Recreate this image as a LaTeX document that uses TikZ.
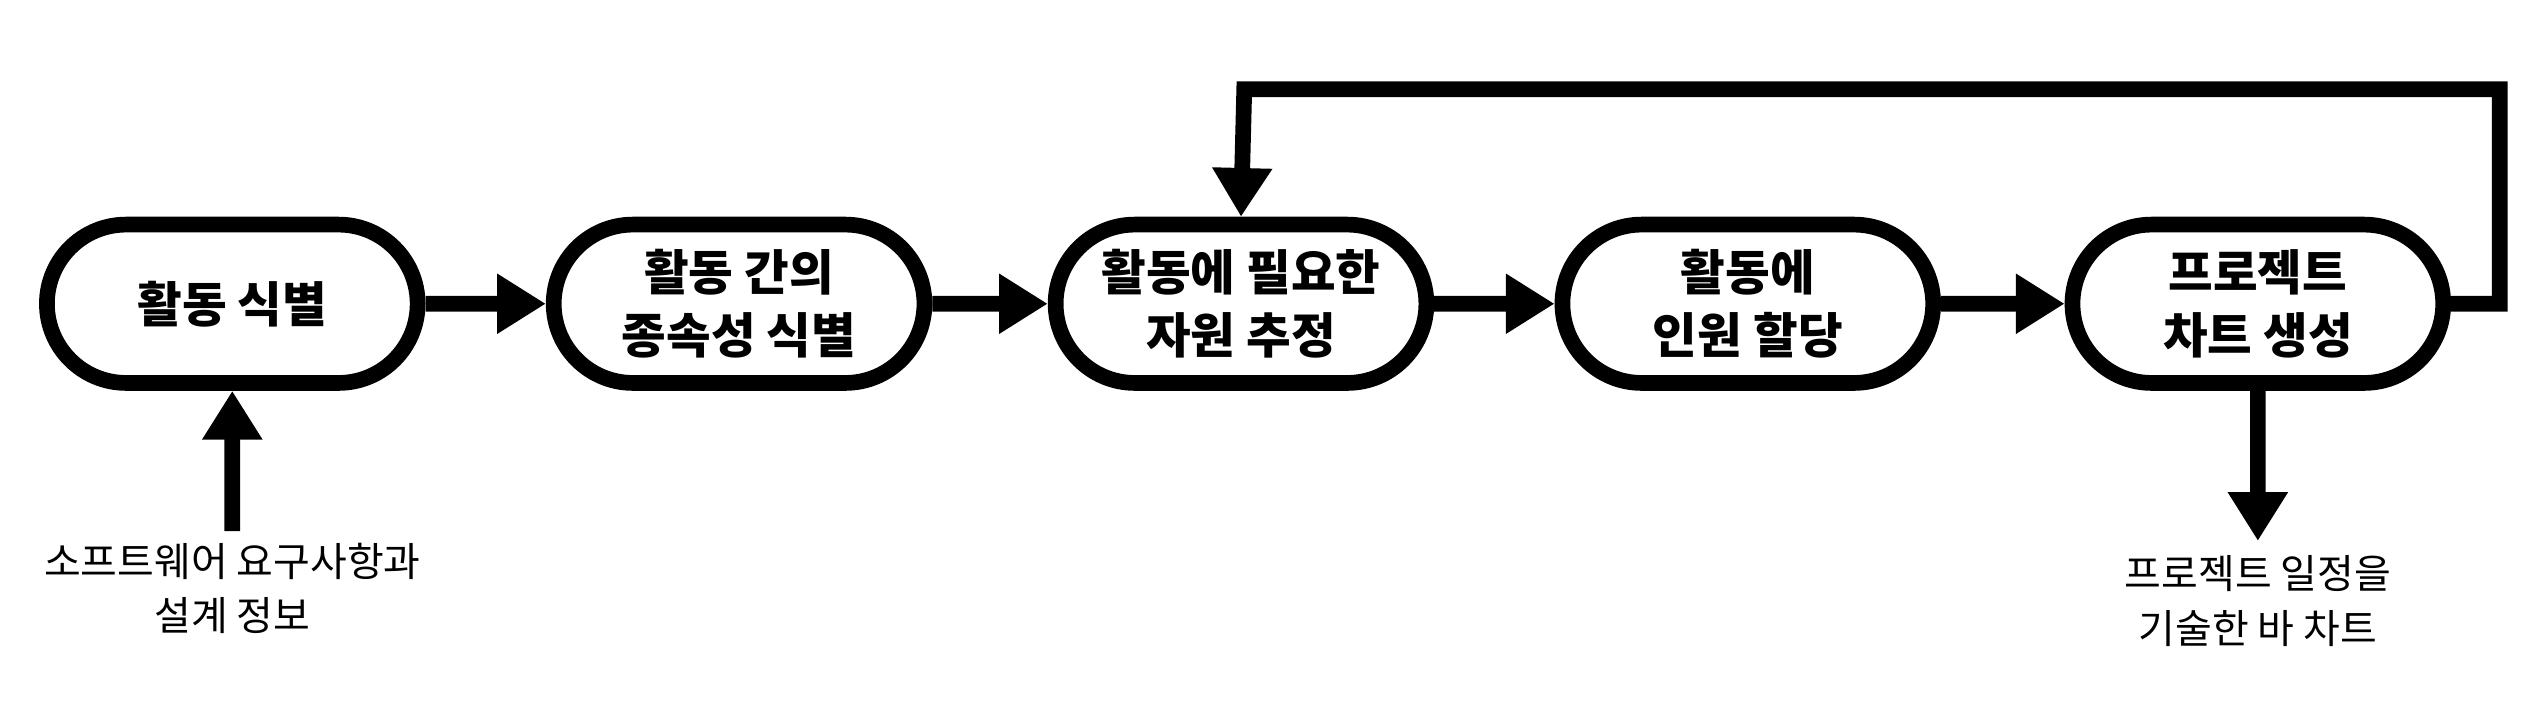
\documentclass[tikz,border=0pt]{standalone}
\usepackage{fontspec}
\newfontfamily\kr{Noto Sans CJK KR}
\usetikzlibrary{shapes.misc,arrows.meta}

\begin{document}
\begin{tikzpicture}[x=0.02cm,y=-0.02cm,
    stage/.style={rounded rectangle,draw,line width=5.5pt,minimum width=4.8cm,
      minimum height=1.95cm,align=center,font=\kr\bfseries\fontsize{17}{22}\selectfont},
    flow/.style={line width=5.5pt,-{Triangle[length=0.6cm,width=0.7cm]}},
    note/.style={align=center,font=\kr\fontsize{14}{19}\selectfont}]
        \useasboundingbox (0,0) rectangle (1560,433.3);

        \node[stage] (s1) at (143,187) {활동 식별};
        \node[stage] (s2) at (455,187) {활동 간의\\종속성 식별};
        \node[stage] (s3) at (764,187) {활동에 필요한\\자원 추정};
        \node[stage] (s4) at (1076,187) {활동에\\인원 할당};
        \node[stage] (s5) at (1390,187) {프로젝트\\차트 생성};

        \node[note] (in) at (143,362) {소프트웨어 요구사항과\\설계 정보};
        \node[note] (out) at (1390,370) {프로젝트 일정을\\기술한 바 차트};
        \coordinate (inbase) at (143,327);
        \coordinate (outtip) at (1390,333);

        \draw[flow] (s1) -- (s2);
        \draw[flow] (s2) -- (s3);
        \draw[flow] (s3) -- (s4);
        \draw[flow] (s4) -- (s5);
        \draw[flow] (inbase) -- (s1);
        \draw[flow] (s5) -- (outtip);
        \draw[flow,line join=miter] (s5.east) -- ++(30,0) |- (766,55) -- (s3.north);
\end{tikzpicture}
\end{document}
